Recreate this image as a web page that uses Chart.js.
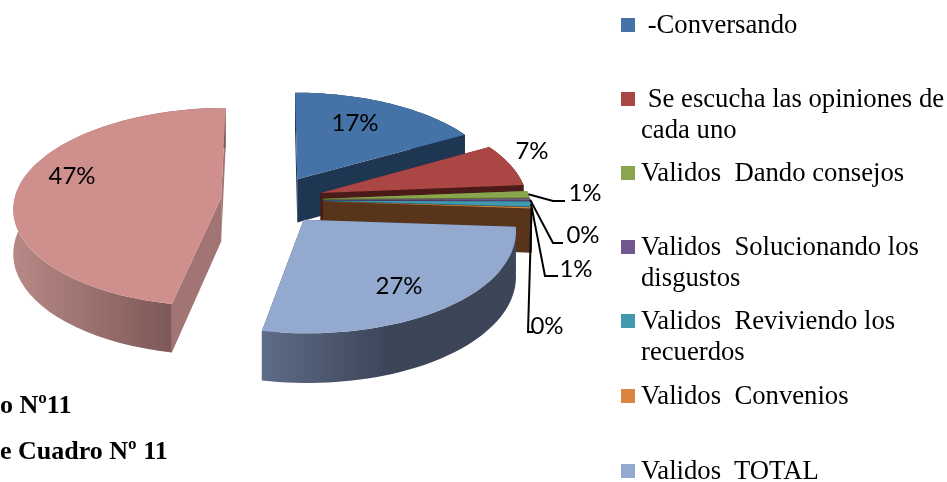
<!DOCTYPE html>
<html lang="es">
<head>
    <meta charset="UTF-8">
    <title>Cuadro Nº 11</title>
    <script src="https://cdn.jsdelivr.net/npm/chart.js"></script>
    <style>
        body {
            margin: 0;
            background: #fff;
            width: 947px;
            height: 482px;
            overflow: hidden;
            position: relative;
            font-family: 'Liberation Serif', serif;
            color: #000;
        }
        canvas {
            position: absolute;
            left: 0;
            top: 0;
        }
        .legend-item {
            position: absolute;
            left: 641px;
            width: 306px;
            font-size: 26.7px;
            line-height: 31px;
            white-space: pre;
        }
        .legend-item i {
            position: absolute;
            left: -20px;
            top: 9px;
            width: 14px;
            height: 14px;
        }
        .caption {
            position: absolute;
            left: 0;
            font-size: 26px;
            font-weight: bold;
            white-space: pre;
        }
    </style>
</head>
<body>
    <canvas id="chart" width="947" height="482"></canvas>
    <div id="legend"></div>
    <div class="caption" style="top: 390px;">o Nº11</div>
    <div class="caption" style="top: 436px;">e Cuadro Nº 11</div>

    <script>
        // el ultimo sector no tiene leyenda visible en el cuadro
        const categories = [' -Conversando', ' Se escucha las opiniones de\ncada uno', 'Validos  Dando consejos',
            'Validos  Solucionando los\ndisgustos', 'Validos  Reviviendo los\nrecuerdos', 'Validos  Convenios',
            'Validos  TOTAL', ''];
        const values = [16.8, 6.9, 1.1, 0.3, 0.8, 0.2, 27.0, 46.9];
        const topColors = ['#4572a7', '#aa4643', '#89a54e', '#71588f', '#4198af', '#db843d', '#93a9cf', '#ce8f8d'];
        const wallColors = ['#1f3653', '#4a1b19', '#5a6e30', '#43335a', '#245f70', '#57341a', '#3d4658', '#a37474'];
        const legendTops = [9, 83, 157, 231, 305, 380, 455];

        // posicion de los porcentajes y codo de las lineas guia
        const labelSpots = [[355, 123], [532, 151], [585, 193], [583, 235], [576, 269], [547, 326], [399, 286], [72, 176]];
        const leaderElbows = [null, null, [[553, 201], [565, 201]], [[553, 243], [563, 243]],
            [[545, 276], [558, 276]], [[528, 332], [533, 332]], null, null];

        // perspectiva del disco
        const scaleX = 207 / 178;
        const scaleY = 98.7 / 178;
        const tilt = 0.0956;
        const depth = 44;

        function project(arc, angle, radius, z) {
            const off = arc.options.offset / arc.outerRadius;
            const mid = (arc.startAngle + arc.endAngle) / 2;
            const u = radius * Math.cos(angle) + off * Math.cos(mid);
            const v = radius * Math.sin(angle) + off * Math.sin(mid);
            const k = 1 / (1 - tilt * v);
            return [arc.x + arc.outerRadius * scaleX * u * k,
                arc.y + arc.outerRadius * scaleY * v * k + z * k];
        }

        function edgePoints(arc, z) {
            const pts = [];
            for (let i = 0; i <= 48; i++) {
                const a = arc.startAngle + (arc.endAngle - arc.startAngle) * i / 48;
                pts.push(project(arc, a, 1, z));
            }
            return pts;
        }

        function fillPath(ctx, pts, fill) {
            ctx.beginPath();
            pts.forEach((p, i) => i ? ctx.lineTo(p[0], p[1]) : ctx.moveTo(p[0], p[1]));
            ctx.closePath();
            ctx.fillStyle = fill;
            ctx.fill();
        }

        function outerWallFill(ctx, index) {
            if (index === 6) {
                const g = ctx.createLinearGradient(262, 0, 515, 0);
                g.addColorStop(0, '#5e6c88');
                g.addColorStop(0.5, '#3c4558');
                g.addColorStop(1, '#3d4658');
                return g;
            }
            if (index === 7) {
                const g = ctx.createLinearGradient(15, 0, 172, 0);
                g.addColorStop(0, '#b78886');
                g.addColorStop(1, '#7d5856');
                return g;
            }
            return wallColors[index];
        }

        function drawSlice(ctx, arc, index) {
            const apexTop = project(arc, arc.startAngle, 0, 0);
            const apexLow = project(arc, arc.startAngle, 0, depth);
            const top = edgePoints(arc, 0);
            const low = edgePoints(arc, depth);
            // paredes radiales
            fillPath(ctx, [apexTop, top[0], low[0], apexLow], wallColors[index]);
            fillPath(ctx, [apexTop, top[48], low[48], apexLow], wallColors[index]);
            // pared exterior
            fillPath(ctx, top.concat(low.slice().reverse()), outerWallFill(ctx, index));
            // cara superior
            fillPath(ctx, [apexTop].concat(top), arc.options.backgroundColor);
        }

        const pie3d = {
            id: 'pie3d',
            beforeDatasetsDraw(chart) {
                const ctx = chart.ctx;
                const arcs = chart.getDatasetMeta(0).data;
                ctx.save();
                // el sector trasero primero, luego en orden de la serie
                drawSlice(ctx, arcs[7], 7);
                for (let i = 0; i < 7; i++) {
                    drawSlice(ctx, arcs[i], i);
                }

                // lineas guia
                ctx.strokeStyle = '#000';
                ctx.lineWidth = 2;
                leaderElbows.forEach((elbow, i) => {
                    if (!elbow) return;
                    const mid = (arcs[i].startAngle + arcs[i].endAngle) / 2;
                    const start = project(arcs[i], mid, 1, 0);
                    ctx.beginPath();
                    ctx.moveTo(start[0], start[1]);
                    elbow.forEach(p => ctx.lineTo(p[0], p[1]));
                    ctx.stroke();
                });

                // porcentajes
                const total = values.reduce((a, b) => a + b, 0);
                ctx.fillStyle = '#000';
                ctx.font = '24px Lato';
                ctx.textAlign = 'center';
                ctx.textBaseline = 'middle';
                values.forEach((v, i) => {
                    ctx.fillText(Math.round(v / total * 100) + '%', labelSpots[i][0], labelSpots[i][1]);
                });
                ctx.restore();
                return false;
            }
        };

        new Chart(document.getElementById('chart'), {
            type: 'pie',
            data: {
                labels: categories,
                datasets: [{
                    data: values,
                    backgroundColor: topColors,
                    borderWidth: 0,
                    offset: 44
                }]
            },
            options: {
                responsive: false,
                animation: false,
                layout: { padding: { left: 0, right: 403, top: 0, bottom: 82 } },
                plugins: {
                    legend: { display: false },
                    tooltip: { enabled: false }
                }
            },
            plugins: [pie3d]
        });

        // leyenda
        const legend = document.getElementById('legend');
        categories.forEach((name, i) => {
            if (!name) return;
            const item = document.createElement('div');
            item.className = 'legend-item';
            item.style.top = legendTops[i] + 'px';
            item.textContent = name;
            const box = document.createElement('i');
            box.style.background = topColors[i];
            item.appendChild(box);
            legend.appendChild(item);
        });
    </script>
</body>
</html>
